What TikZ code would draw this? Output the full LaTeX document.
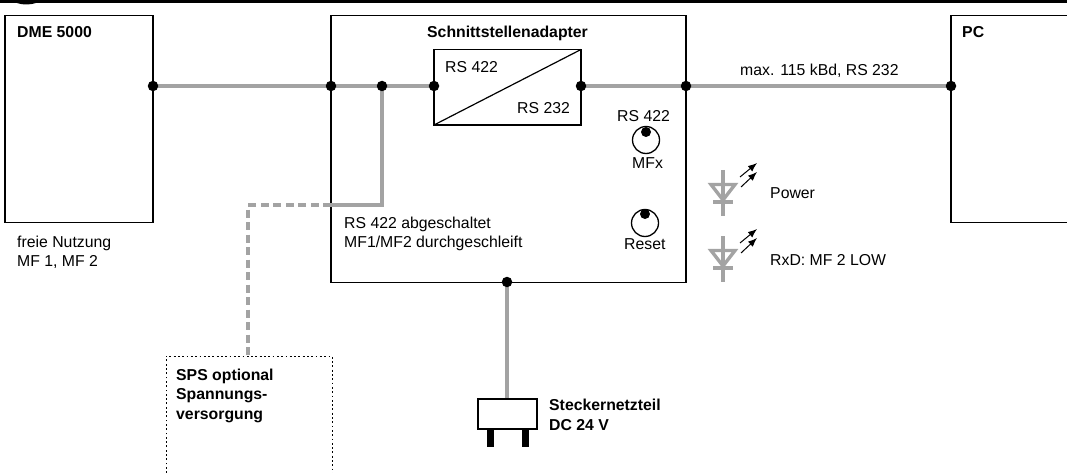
\documentclass[tikz,border=0pt]{standalone}
\usepackage{fontspec}
\setmainfont{Liberation Sans}
\usetikzlibrary{arrows.meta}
\definecolor{lg}{gray}{0.64}
\tikzset{
  x=1pt,y=-1pt,
  box/.style={draw=black,line width=1.3pt,inner sep=0pt,outer sep=0pt,fill=white},
  wire/.style={draw=lg,line width=4pt},
  dwire/.style={draw=lg,line width=4.4pt,dash pattern=on 8pt off 4.5pt},
  dot/.style={circle,fill=black,inner sep=0pt,minimum size=10.5pt},
  txt/.style={font=\fontsize{15.8}{18}\selectfont,anchor=base west,inner sep=0pt},
  btxt/.style={font=\fontsize{15.8}{18.5}\selectfont\bfseries,anchor=base west,inner sep=0pt},
  ledline/.style={draw=lg,line width=3.4pt},
  ledarrow/.style={draw=black,line width=1pt,-{Latex[length=9pt,width=7pt]}}
}
\newcommand{\ledsym}[2]{%
  \begin{scope}[shift={(#1,#2)}]
    \draw[ledline] (0,0) -- (0,46);
    \draw[ledline] (-12,14.5) -- (12,14.5) -- (0,30) -- cycle;
    \draw[ledline] (-10,32) -- (10,32);
    \draw[ledarrow] (17,7) -- (34,-7);
    \draw[ledarrow] (18,17) -- (34,2);
  \end{scope}}
\begin{document}
\begin{tikzpicture}
\useasboundingbox (0,0) rectangle (1067,473);
\fill[black] (0,0) rectangle (1067,3.4);
\fill[black] (17,3) .. controls (22,5) and (30,5) .. (36,3) -- cycle;
% boxes
\draw[box] (5,15.5) rectangle (153,222.5);
\coordinate (dmeR) at (153,86);
\node[btxt] (dme) at (17,38) {DME 5000};
\draw[box] (331,15.5) rectangle (686,282.5);
\node[btxt] (ad) at (427,38) {Schnittstellenadapter};
\draw[box] (1067,15.5) -- (951,15.5) -- (951,222.5) -- (1067,222.5);
\node[btxt] (pc) at (962,38) {PC};
% wires
\coordinate (a1) at (331,86);
\coordinate (a2) at (382,86);
\coordinate (a3) at (434,86);
\coordinate (a4) at (581,86);
\coordinate (a5) at (686,86);
\coordinate (pcL) at (951,86);
\coordinate (k1) at (382,205);
\coordinate (k2) at (331,205);
\coordinate (k3) at (248,205);
\coordinate (s) at (248,356);
\coordinate (b) at (507,282);
\coordinate (p) at (507,399);
\draw[dwire] (k2) -- (k3) -- (s);
\draw[wire] (dmeR) -- (a3);
\draw[wire] (a4) -- (pcL);
\draw[wire] (a2) -- (k1) -- (k2);
\draw[wire] (b) -- (p);
% converter
\draw[box] (434,49.5) rectangle (581,125);
\draw[black,line width=1.2pt] (434,125) -- (581,49.5);
\node[txt] (r1) at (445,73) {RS 422};
\node[txt] (r2) at (517,114) {RS 232};
% dots
\foreach \c in {dmeR,a1,a2,a3,a4,a5,pcL,b} \node[dot] at (\c) {};
% labels
\node[txt] (baud) at (740,76) {max. 115 kBd, RS 232};
\node[txt] (r3) at (617,122) {RS 422};
\node[txt] (mfx) at (632,169) {MFx};
\node[txt] (reset) at (624,249) {Reset};
\node[txt] (abg1) at (344,228) {RS 422 abgeschaltet};
\node[txt] (abg2) at (344,247) {MF1/MF2 durchgeschleift};
\node[txt] (frei1) at (17,247) {freie Nutzung};
\node[txt] (frei2) at (17,266) {MF 1, MF 2};
\node[txt] (power) at (770,198) {Power};
\node[txt] (rxd) at (770,265) {RxD: MF 2 LOW};
% knobs
\draw[black,line width=1.3pt] (646,140) circle (13.5);
\fill[black] (646,132) circle (5);
\draw[black,line width=1.3pt] (645,223) circle (13.5);
\fill[black] (645,214) circle (5);
% LEDs
\ledsym{723}{170}
\ledsym{723}{236}
% SPS
\draw[black,line width=1pt,dash pattern=on 1.8pt off 2.5pt] (166,473) -- (166,356) -- (332,356) -- (332,473);
\node[btxt] (sps1) at (176,380) {SPS optional};
\node[btxt] (sps2) at (176,399) {Spannungs-};
\node[btxt] (sps3) at (176,419) {versorgung};
% plug
\draw[box] (478,399) rectangle (537,429);
\fill[black] (487,429.5) rectangle (494,447);
\fill[black] (522,429.5) rectangle (529,447);
\node[btxt] (st1) at (549,410) {Steckernetzteil};
\node[btxt] (st2) at (549,430) {DC 24 V};
\end{tikzpicture}
\end{document}
